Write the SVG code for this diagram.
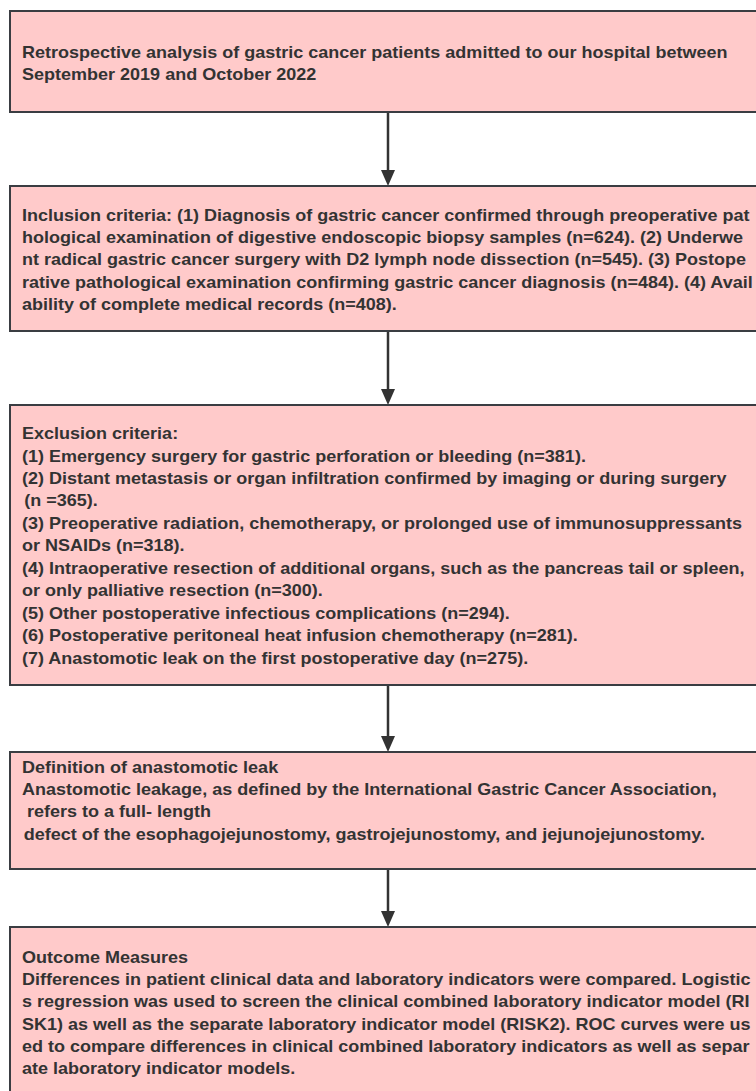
<svg xmlns="http://www.w3.org/2000/svg" width="756" height="1091" viewBox="0 0 756 1091">
<defs>
<style>
.box{fill:#ffcaca;stroke:#3a3d42;stroke-width:2}
.t{font-family:"Liberation Sans",Arial,sans-serif;font-weight:bold;font-size:16.5px;fill:#333333}
.c{stroke:#333333;stroke-width:2.5;fill:none}
.ah{fill:#333333}
</style>
</defs>
<rect width="756" height="1091" fill="#ffffff"/>
<g id="connectors">
<line class="c" x1="388" y1="113" x2="388" y2="172"/>
<path class="ah" d="M381,170 L395,170 L388,186 Z"/>
<line class="c" x1="388" y1="332" x2="388" y2="391"/>
<path class="ah" d="M381,389 L395,389 L388,405 Z"/>
<line class="c" x1="388" y1="686" x2="388" y2="738"/>
<path class="ah" d="M381,736 L395,736 L388,752 Z"/>
<line class="c" x1="388" y1="870" x2="388" y2="913"/>
<path class="ah" d="M381,911 L395,911 L388,927 Z"/>
</g>
<g id="node1">
<rect class="box" x="10" y="11" width="760" height="101"/>
<g transform="matrix(1.092,0,0,1,-2.02,0)">
<text class="t" x="22" y="58">Retrospective analysis of gastric cancer patients admitted to our hospital between</text>
<text class="t" x="22" y="80">September 2019 and October 2022</text>
</g>
</g>
<g id="node2">
<rect class="box" x="10" y="186" width="760" height="145"/>
<g transform="matrix(1.092,0,0,1,-2.02,0)">
<text class="t" x="22" y="221">Inclusion criteria: (1) Diagnosis of gastric cancer confirmed through preoperative pat</text>
<text class="t" x="22" y="243">hological examination of digestive endoscopic biopsy samples (n=624). (2) Underwe</text>
<text class="t" x="22" y="265">nt radical gastric cancer surgery with D2 lymph node dissection (n=545). (3) Postope</text>
<text class="t" x="22" y="288">rative pathological examination confirming gastric cancer diagnosis (n=484). (4) Avail</text>
<text class="t" x="22" y="310">ability of complete medical records (n=408).</text>
</g>
</g>
<g id="node3">
<rect class="box" x="10" y="405" width="760" height="280"/>
<g transform="matrix(1.092,0,0,1,-2.02,0)">
<text class="t" x="22" y="439">Exclusion criteria:</text>
<text class="t" x="22" y="462">(1) Emergency surgery for gastric perforation or bleeding (n=381).</text>
<text class="t" x="22" y="484">(2) Distant metastasis or organ infiltration confirmed by imaging or during surgery</text>
<text class="t" x="24" y="506">(n =365).</text>
<text class="t" x="22" y="529">(3) Preoperative radiation, chemotherapy, or prolonged use of immunosuppressants</text>
<text class="t" x="22" y="551">or NSAIDs (n=318).</text>
<text class="t" x="22" y="574">(4) Intraoperative resection of additional organs, such as the pancreas tail or spleen,</text>
<text class="t" x="22" y="596">or only palliative resection (n=300).</text>
<text class="t" x="22" y="619">(5) Other postoperative infectious complications (n=294).</text>
<text class="t" x="22" y="641">(6) Postoperative peritoneal heat infusion chemotherapy (n=281).</text>
<text class="t" x="22" y="664">(7) Anastomotic leak on the first postoperative day (n=275).</text>
</g>
</g>
<g id="node4">
<rect class="box" x="10" y="752" width="760" height="117"/>
<g transform="matrix(1.092,0,0,1,-2.02,0)">
<text class="t" x="22" y="773">Definition of anastomotic leak</text>
<text class="t" x="22" y="795">Anastomotic leakage, as defined by the International Gastric Cancer Association,</text>
<text class="t" x="26.5" y="817">refers to a full- length</text>
<text class="t" x="23.5" y="840">defect of the esophagojejunostomy, gastrojejunostomy, and jejunojejunostomy.</text>
</g>
</g>
<g id="node5">
<rect class="box" x="10" y="927" width="760" height="180"/>
<g transform="matrix(1.092,0,0,1,-2.02,0)">
<text class="t" x="22" y="963">Outcome Measures</text>
<text class="t" x="22" y="985">Differences in patient clinical data and laboratory indicators were compared. Logistic</text>
<text class="t" x="22" y="1007">s regression was used to screen the clinical combined laboratory indicator model (RI</text>
<text class="t" x="22" y="1030">SK1) as well as the separate laboratory indicator model (RISK2). ROC curves were us</text>
<text class="t" x="22" y="1052">ed to compare differences in clinical combined laboratory indicators as well as separ</text>
<text class="t" x="22" y="1074">ate laboratory indicator models.</text>
</g>
</g>
</svg>
